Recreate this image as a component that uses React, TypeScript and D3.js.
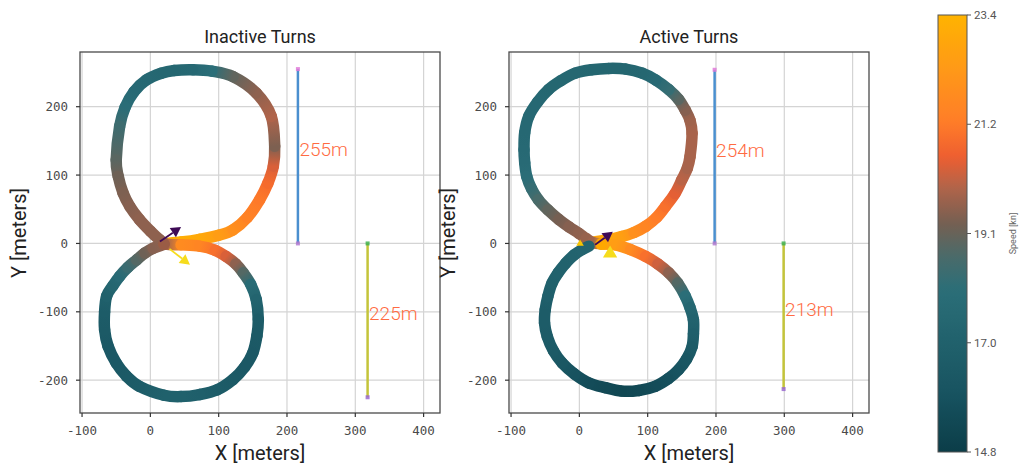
import React from "react";
import * as d3 from "d3";

// ---------- data ----------
const X_TICKS = [-100, 0, 100, 200, 300, 400];
const Y_TICKS = [-200, -100, 0, 100, 200];
const X_DOMAIN = [-103, 424];
const Y_DOMAIN = [-248, 280];

const SPEED_DOMAIN = [14.8, 23.4];
const COLORBAR_TICK_LABELS = ["14.8", "17.0", "19.1", "21.2", "23.4"];
const SPEED_STOPS = [14.8, 16.0, 17.0, 18.0, 18.7, 19.3, 20.0, 20.6, 21.3, 22.3, 23.4];
const SPEED_COLORS = [
  "#0b3d48", "#185461", "#21626d", "#2b6e78", "#4d6a68", "#755f52",
  "#b0644a", "#ee5e31", "#ff7d28", "#ff9818", "#ffb300",
];

// [x (m), y (m), speed (kn)]
const inactiveTrack: [number, number, number][] = [
  [23, 0, 23.2], [45, 2, 23.2], [72, 6, 23.0], [100, 12, 22.5], [121, 20, 22.0],
  [142, 38, 21.5], [160, 64, 21.2], [172, 88, 20.9], [180, 113, 20.4], [182, 142, 19.4],
  [177, 186, 20.0], [155, 220, 19.6], [121, 244, 19.0], [90, 252, 18.0], [62, 254, 17.5],
  [35, 253, 17.4], [16, 249, 17.4], [-6, 239, 17.5], [-24, 222, 17.6], [-37, 199, 17.9],
  [-45, 171, 18.4], [-50, 122, 18.9], [-47, 98, 19.2], [-40, 74, 19.4], [-30, 54, 19.5],
  [-16, 35, 19.6], [0, 18, 19.6], [14, 5, 19.6], [23, -1, 19.8],
  [45, -2, 21.8], [72, -4, 21.6], [95, -10, 21.0], [111, -19, 20.4], [125, -30, 19.6],
  [136, -43, 18.8], [147, -60, 17.8], [155, -82, 17.2], [158, -111, 16.6], [156, -135, 16.4],
  [150, -160, 16.3], [138, -181, 16.3], [121, -199, 16.4], [98, -214, 16.6], [72, -221, 16.8],
  [45, -224, 16.9], [20, -222, 16.9], [-16, -209, 16.6], [-35, -194, 16.4], [-50, -175, 16.3],
  [-62, -150, 16.3], [-67, -126, 16.4], [-67, -100, 16.6], [-64, -77, 16.9], [-55, -62, 17.3],
  [-45, -48, 17.7], [-33, -35, 18.3], [-20, -24, 18.8], [-8, -14, 19.2], [4, -7, 19.5],
  [18, -2, 19.6],
];

const activeTrack: [number, number, number][] = [
  [20, 2, 22.8], [40, 5, 23.0], [62, 10, 22.6], [80, 16, 22.0], [97, 25, 21.6],
  [113, 38, 21.3], [126, 54, 21.0], [140, 73, 20.5], [150, 93, 20.1], [158, 110, 19.9],
  [162, 127, 19.9], [165, 161, 19.9], [162, 180, 19.8], [155, 195, 19.5], [145, 211, 18.9],
  [131, 225, 18.2], [112, 239, 17.6], [92, 249, 17.4], [68, 255, 17.3], [43, 256, 17.3],
  [18, 254, 17.3], [-6, 249, 17.4], [-27, 238, 17.4], [-45, 225, 17.4], [-61, 207, 17.5],
  [-74, 186, 17.5], [-80, 162, 17.5], [-81, 137, 17.6], [-80, 118, 17.7], [-77, 98, 17.9],
  [-70, 80, 18.2], [-60, 64, 18.6], [-46, 49, 19.0], [-30, 35, 19.3], [-15, 24, 19.5],
  [-1, 15, 19.6], [10, 7, 19.7], [20, 1, 19.8],
  [36, -1, 22.8], [53, -2, 22.5], [75, -9, 21.8], [97, -19, 21.0], [115, -30, 20.3],
  [131, -43, 19.6], [144, -58, 18.8], [155, -77, 18.0], [162, -94, 17.4], [167, -112, 17.1],
  [167, -132, 16.8], [165, -151, 16.5], [157, -169, 16.2], [145, -185, 16.0], [130, -198, 15.8],
  [111, -209, 15.6], [87, -215, 15.4], [62, -216, 15.3], [38, -211, 15.4], [14, -204, 15.6],
  [-7, -191, 15.9], [-25, -175, 16.2], [-38, -157, 16.4], [-47, -136, 16.5], [-51, -116, 16.6],
  [-50, -97, 16.6], [-46, -77, 16.8], [-40, -58, 16.9], [-31, -43, 17.0], [-20, -29, 17.0],
  [-8, -17, 17.1], [4, -9, 17.2], [14, -4, 17.2],
];

// measurement bars: x, from, to, label
const inactiveMeasureX = [216, 318];
const inactiveMeasureFrom = [0, 0];
const inactiveMeasureTo = [255, -225];
const inactiveMeasureLabels = ["255m", "225m"];

const activeMeasureX = [198, 299];
const activeMeasureFrom = [0, 0];
const activeMeasureTo = [254, -213];
const activeMeasureLabels = ["254m", "213m"];

// arrows: [x0, y0, x1, y1]
const inactiveStartArrow = [14, 3, 45, 24];
const inactiveEndArrow = [28, -8, 58, -31];
const inactiveStartPoint = [20, -1];
const activeStartArrow = [23, -2, 49, 17];
const activeEndMarker = [45, -14];
const activeSmallMarker = [1, 0];
const activeStartPoint = [32, -1];

// ---------- styles ----------
const TITLE_FONT = "Roboto, 'DejaVu Sans', sans-serif";
const TICK_FONT = "'DejaVu Sans Mono', monospace";
const MEASURE_COLORS = ["#4a8fcf", "#c4c43a"];
const MEASURE_TOP_MARK = ["#e07ad8", "#3fb24f"];
const MEASURE_BOTTOM_MARK = ["#b27ad0", "#9a6ad0"];
const LABEL_COLOR = "#ff6b42";

const speedColor = d3
  .scaleLinear<string>()
  .domain(SPEED_STOPS)
  .range(SPEED_COLORS)
  .interpolate(d3.interpolateRgb)
  .clamp(true);

const TOP = 52;
const BOTTOM = 413;
const PANEL_W = 360;

function Arrow({ pts, color, x, y }: any) {
  const x0 = x(pts[0]), y0 = y(pts[1]), x1 = x(pts[2]), y1 = y(pts[3]);
  const dx = x1 - x0, dy = y1 - y0;
  const len = Math.hypot(dx, dy);
  const ux = dx / len, uy = dy / len;
  const hl = 10, hw = 5.5;
  const bx = x1 - ux * hl, by = y1 - uy * hl;
  const tri = `${x1},${y1} ${bx - uy * hw},${by + ux * hw} ${bx + uy * hw},${by - ux * hw}`;
  return (
    <g>
      <line x1={x0} y1={y0} x2={bx} y2={by} stroke={color} strokeWidth={1.8} />
      <polygon points={tri} fill={color} />
    </g>
  );
}

function Panel({ id, left, title, track, mX, mFrom, mTo, mLabels, children }: any) {
  const x = d3.scaleLinear().domain(X_DOMAIN).range([left, left + PANEL_W]);
  const y = d3.scaleLinear().domain(Y_DOMAIN).range([BOTTOM, TOP]);
  const px = track.map((d: number[]) => [x(d[0]), y(d[1]), d[2]]);
  const n = px.length;
  const segs = [];
  for (let i = 0; i < n - 1; i++) {
    const p0 = px[Math.max(0, i - 1)], p1 = px[i], p2 = px[i + 1], p3 = px[Math.min(n - 1, i + 2)];
    const c1x = p1[0] + (p2[0] - p0[0]) / 6, c1y = p1[1] + (p2[1] - p0[1]) / 6;
    const c2x = p2[0] - (p3[0] - p1[0]) / 6, c2y = p2[1] - (p3[1] - p1[1]) / 6;
    segs.push({
      d: `M${p1[0]},${p1[1]}C${c1x},${c1y} ${c2x},${c2y} ${p2[0]},${p2[1]}`,
      x1: p1[0], y1: p1[1], x2: p2[0], y2: p2[1],
      c1: speedColor(p1[2]), c2: speedColor(p2[2]),
    });
  }
  const clipId = `clip-${id}`;
  return (
    <g>
      <defs>
        <clipPath id={clipId}>
          <rect x={left} y={TOP} width={PANEL_W} height={BOTTOM - TOP} />
        </clipPath>
        {segs.map((s, i) => (
          <linearGradient key={i} id={`${id}-g${i}`} gradientUnits="userSpaceOnUse"
            x1={s.x1} y1={s.y1} x2={s.x2} y2={s.y2}>
            <stop offset="0" stopColor={s.c1} />
            <stop offset="1" stopColor={s.c2} />
          </linearGradient>
        ))}
      </defs>
      {/* grid */}
      {X_TICKS.map((t) => (
        <line key={"gx" + t} x1={x(t)} x2={x(t)} y1={TOP} y2={BOTTOM} stroke="#d4d4d4" strokeWidth={1.2} />
      ))}
      {Y_TICKS.map((t) => (
        <line key={"gy" + t} x1={left} x2={left + PANEL_W} y1={y(t)} y2={y(t)} stroke="#d4d4d4" strokeWidth={1.2} />
      ))}
      {/* track */}
      <g clipPath={`url(#${clipId})`}>
        {segs.map((s, i) => (
          <path key={i} d={s.d} fill="none" stroke={`url(#${id}-g${i})`} strokeWidth={11.5}
            strokeLinecap="round" strokeLinejoin="round" />
        ))}
        {children && children(x, y)}
      </g>
      {/* measurement bars */}
      {mX.map((mx: number, i: number) => (
        <g key={"m" + i}>
          <line x1={x(mx)} x2={x(mx)} y1={y(mFrom[i])} y2={y(mTo[i])} stroke={MEASURE_COLORS[i]} strokeWidth={2.5} />
          <rect x={x(mx) - 2} y={y(Math.max(mFrom[i], mTo[i])) - 2} width={4} height={4} fill={MEASURE_TOP_MARK[i]} opacity={0.85} />
          <rect x={x(mx) - 2} y={y(Math.min(mFrom[i], mTo[i])) - 2} width={4} height={4} fill={MEASURE_BOTTOM_MARK[i]} opacity={0.85} />
          <text x={x(mx) + 1.5} y={y((mFrom[i] + mTo[i]) / 2)} fill={LABEL_COLOR}
            fontFamily={TITLE_FONT} fontSize={19} fontWeight={300}>{mLabels[i]}</text>
        </g>
      ))}
      {/* frame */}
      <rect x={left} y={TOP} width={PANEL_W} height={BOTTOM - TOP} fill="none" stroke="#4a4a4a" strokeWidth={1.3} />
      {/* ticks */}
      {X_TICKS.map((t) => (
        <g key={"tx" + t}>
          <line x1={x(t)} x2={x(t)} y1={BOTTOM} y2={BOTTOM + 4} stroke="#333" strokeWidth={1.2} />
          <text x={x(t)} y={430} textAnchor="middle" dominantBaseline="central"
            fontFamily={TICK_FONT} fontSize={12.5} fill="#4a4a4a">{t}</text>
        </g>
      ))}
      {Y_TICKS.map((t) => (
        <g key={"ty" + t}>
          <line x1={left - 4} x2={left} y1={y(t)} y2={y(t)} stroke="#333" strokeWidth={1.2} />
          <text x={left - 12} y={y(t)} textAnchor="end" dominantBaseline="central"
            fontFamily={TICK_FONT} fontSize={12.5} fill="#4a4a4a">{t}</text>
        </g>
      ))}
      {/* labels */}
      <text x={left + PANEL_W / 2} y={43} textAnchor="middle" fontFamily={TITLE_FONT} fontSize={18} fill="#222">{title}</text>
      <text x={left + PANEL_W / 2} y={460} textAnchor="middle" fontFamily={TITLE_FONT} fontSize={20} fill="#222">X [meters]</text>
      <text transform={`translate(${left - 61},233) rotate(-90)`} textAnchor="middle" dominantBaseline="central"
        fontFamily={TITLE_FONT} fontSize={20} fill="#222">Y [meters]</text>
    </g>
  );
}

function Colorbar() {
  const top = 15, bottom = 452, left = 938, w = 29;
  const yS = d3.scaleLinear().domain(SPEED_DOMAIN).range([bottom, top]);
  const tickVals = COLORBAR_TICK_LABELS.map((_, i) =>
    SPEED_DOMAIN[0] + (i * (SPEED_DOMAIN[1] - SPEED_DOMAIN[0])) / (COLORBAR_TICK_LABELS.length - 1));
  const stops = d3.range(0, 1.0001, 0.02);
  return (
    <g>
      <defs>
        <linearGradient id="cbar" x1="0" y1="1" x2="0" y2="0">
          {stops.map((s, i) => (
            <stop key={i} offset={s} stopColor={speedColor(SPEED_DOMAIN[0] + s * (SPEED_DOMAIN[1] - SPEED_DOMAIN[0]))} />
          ))}
        </linearGradient>
      </defs>
      <rect x={left} y={top} width={w} height={bottom - top} fill="url(#cbar)" stroke="#555" strokeWidth={1} />
      {tickVals.map((v, i) => (
        <g key={i}>
          <line x1={left + w} x2={left + w + 4} y1={yS(v)} y2={yS(v)} stroke="#555" strokeWidth={1} />
          <text x={left + w + 7} y={yS(v)} dominantBaseline="central" fontFamily={TITLE_FONT}
            fontSize={11.5} fill="#555">{COLORBAR_TICK_LABELS[i]}</text>
        </g>
      ))}
      <text transform={`translate(1013,${(top + bottom) / 2}) rotate(-90)`} textAnchor="middle"
        dominantBaseline="central" fontFamily={TITLE_FONT} fontSize={9} fill="#666">Speed [kn]</text>
    </g>
  );
}

export default function App() {
  return (
    <svg width={1019} height={467} style={{ position: "absolute", left: 0, top: 0, display: "block", background: "#fff" }}>
      <rect width={1019} height={467} fill="#fff" />
      <Panel id="inactive" left={80} title="Inactive Turns" track={inactiveTrack}
        mX={inactiveMeasureX} mFrom={inactiveMeasureFrom} mTo={inactiveMeasureTo} mLabels={inactiveMeasureLabels}>
        {(x: any, y: any) => (
          <g>
            <circle cx={x(inactiveStartPoint[0])} cy={y(inactiveStartPoint[1])} r={6} fill="#9a5c45" />
            <Arrow pts={inactiveStartArrow} color="#3e0a56" x={x} y={y} />
            <Arrow pts={inactiveEndArrow} color="#f6dc1c" x={x} y={y} />
          </g>
        )}
      </Panel>
      <Panel id="active" left={509} title="Active Turns" track={activeTrack}
        mX={activeMeasureX} mFrom={activeMeasureFrom} mTo={activeMeasureTo} mLabels={activeMeasureLabels}>
        {(x: any, y: any) => {
          const tri = (cx: number, cy: number, s: number) =>
            `${cx},${cy - s} ${cx - s * 0.95},${cy + s * 0.6} ${cx + s * 0.95},${cy + s * 0.6}`;
          return (
            <g>
              <circle cx={x(activeStartPoint[0])} cy={y(activeStartPoint[1])} r={6} fill="#ffa800" />
              <polygon points={tri(x(activeSmallMarker[0]), y(activeSmallMarker[1]), 4)} fill="#f8c400" />
              <polygon points={tri(x(activeEndMarker[0]), y(activeEndMarker[1]), 7.5)} fill="#f6dc1c" />
              <Arrow pts={activeStartArrow} color="#3e0a56" x={x} y={y} />
            </g>
          );
        }}
      </Panel>
      <Colorbar />
    </svg>
  );
}
